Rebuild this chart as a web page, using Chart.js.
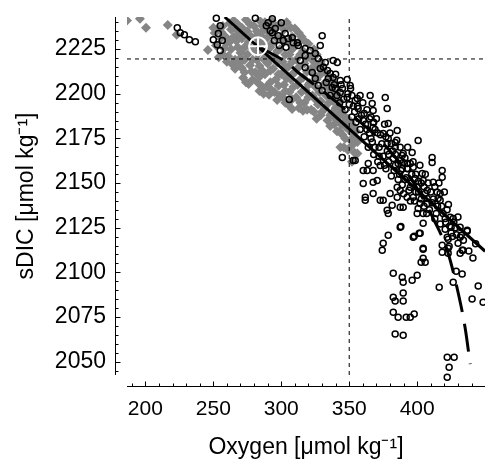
<!DOCTYPE html>
<html><head><meta charset="utf-8">
<script src="https://cdn.jsdelivr.net/npm/chart.js@4"></script>
<style>html,body{margin:0;padding:0;background:#fff;overflow:hidden}canvas{display:block}</style>
</head><body>
<canvas id="c" width="485" height="459"></canvas>
<script>
// ---- axis definitions ----
const xTickValues = [200, 250, 300, 350, 400];
const yTickValues = [2050, 2075, 2100, 2125, 2150, 2175, 2200, 2225];
const xMinorStep = 10;
const yMinorStep = 5;
const xRange = [186.5, 449.9];
const yRange = [2042.5, 2243];

// ---- reference lines ----
const refOxygen = 350;
const refDIC = 2219.5;

// ---- reference point (⊕ marker) ----
const centerPoint = [282.9, 2226.6];

// ---- linear fit (solid) ----
const fitOxygen = [258.4, 450];
const fitDIC = [2243, 2111.8];

// ---- curved fit (dashed) ----
const curveOxygen = [282.9, 305.1, 312.5, 327.2, 350.7, 372.8, 394.9, 413.2, 422.1, 429.4, 435.3, 439.0];
const curveDIC = [2226.6, 2216.9, 2211.9, 2203.5, 2188.9, 2173.9, 2153.2, 2128.0, 2112.4, 2091.1, 2068.8, 2048.6];

// ---- gray diamonds: [oxygen, sDIC] ----
const grayPoints = [
[186.5,2241],[196,2242],[200.5,2237],[216.5,2238.5],[223,2233],[246,2224.5],[253.5,2236.5],
[251,2234],[252,2227],[254,2220.5],[255.5,2231],
[257,2238],[259,2232],[258,2225.5],[261,2221],[263,2236],[262,2229],[264,2216.5],[266,2214],[265,2241],
[268,2239],[269,2233],[268,2226],[270,2220],[272,2209],[271,2214.5],[274,2241.5],[275,2235],[276,2229],[275,2222],[277,2216],[276,2205.5],[280,2238],[281,2232],[280,2225],[282,2219],[281,2212],[283,2206],[284,2201.5],[284,2241],[285,2234],[286,2228],
[288,2240],[289,2236],[288,2230],[289,2223],[290,2217],[288,2211],[289,2204],[291,2199.5],[293,2241],[294,2235],[293,2228],[295,2221],[294,2214],[296,2208],[295,2201],[297,2196.5],[299,2239],[300,2232],[299,2225],[301,2218],[300,2211],[302,2205],[301,2198],[304,2240],[305,2229],[306,2222],[305,2215],[307,2208],[306,2201],[305,2194],
[310,2236.5],[309,2226],[311,2219],[310,2212],[312,2205],[311,2198],[313,2192],[315,2232],[316,2224],[317,2217],[316,2209],[318,2202],[317,2195],[320,2228],[321,2221],[322,2214],[321,2206],[323,2199],[322,2191],[326,2222],[327,2215],[326,2208],[328,2201],[327,2194],[329,2188],
[331,2213],[332,2206],[333,2199],[332,2192],[334,2185],[336,2209],[337,2203],[338,2196],[337,2189],[339,2183],[341,2200],[342,2193],[341,2186],[343,2179],
[345,2190],[346,2184],[345,2177],[343.5,2170],[349,2186],[350,2180],[351,2174],[349,2168.5],[353,2182],[354,2176],[356,2166.5],[352,2162],
[250,2237],[256,2234.5],[257,2222],[260,2228.5],[260,2218],[262,2239.5],[263,2225],[265,2232],[266,2219],
[267,2236],[267,2229.5],[269,2217],[270,2223],[271,2237],[271,2231],[273,2226],[273,2219],[273,2212],[274,2206.5],[277,2239],[278,2232],[278,2225.5],[279,2219],[278,2212.5],[279,2208],[282,2235],[283,2228.5],[283,2222.5],[284,2215.5],[284,2209.5],[286,2204],[286,2238],[287,2231],[287,2219.5],[286,2213],[287,2200],
[291,2238.5],[291,2232.5],[292,2226],[292,2219.5],[292,2213],[292,2206.5],[293,2202],[296,2238],[297,2231],[297,2224],[297,2217.5],[298,2211],[298,2204.5],[299,2199],[302,2236],[302,2229],[303,2222],[303,2215],[304,2208.5],[303,2201.5],[303,2195],[307,2237],[308,2232],[308,2225],[308,2218],[308,2211],[309,2204],[308,2197],[308,2191.5],
[313,2234],[313,2229],[314,2222],[313,2215],[314,2208],[315,2201],[314,2195],[316,2190.5],[318,2229],[319,2220],[319,2212.5],[320,2205],[320,2198],[319,2191],[324,2225],[324,2218],[324,2211],[325,2204],[325,2197],[324,2190],[329,2218],[329,2211],[330,2204],[329,2196],[330,2190],[326,2186],
[334,2211],[335,2203],[335,2195],[336,2188],[336,2182],[339,2206],[339,2199],[340,2192],[340,2186],[341,2179],[343,2196],[343,2189],[344,2183],
[347,2187],[348,2181],[347,2175],[346,2170],[351,2184],[352,2178],[352,2171],[355,2179],[356,2173],[354,2167]
];

// ---- open circles: [oxygen, sDIC] ----
const circlePoints = [
[223.5,2237],[225.7,2234.2],[228.7,2233.1],[232.4,2230.3],[236.8,2229.2],[252.2,2242.3],[255.1,2238.1],[253.7,2233.7],[250,2230.3],[252.9,2227.5],[255.1,2224.2],[256.6,2229.8],
[280.9,2242.3],[293.4,2242],[290.4,2239.8],[293.4,2234.2],[301.5,2229.8],[308.8,2228.6],
[289,2238.1],[291.9,2235.3],[295.6,2236.5],[297.8,2232.5],[300,2239.8],[302.9,2233.7],[305.1,2230.9],[294.9,2229.8],[298.5,2227],[303.5,2226],
[308.1,2231.4],[311.8,2228.6],[330.1,2232.5],[328.7,2227],[325,2222.5],[332.4,2217.5],[338.2,2218.6],[336,2211.3],[338.2,2209.1],[322.8,2211.9],[317.6,2214.7],[325,2208.5],[317.6,2225.3],[341.2,2217.5],[328.7,2214.1],[334.6,2208.5],[348.5,2208],[337.5,2203.5],[343.4,2200.7],[348.5,2197.9],[350.7,2204.6],[354.4,2196.2],[305.9,2196.8],
[327.2,2204.6],[330.1,2201.8],[333.1,2206.3],[336,2199],[339.7,2202.9],[343.4,2207.4],
[312.5,2227],[317.6,2221.4],[321.3,2224.2],[327.2,2219.7],[314,2218.6],
[355.9,2197.3],[365.4,2199],[376.5,2197.9],[377.9,2191.7],[367.6,2190.6],[366.9,2194.5],[356.6,2191.7],[360.3,2185],[367.6,2181.1],[367.6,2183.9],[375,2177.8],[385.3,2179.4],[378.7,2183.4],[377.9,2172.2],[378.7,2175],[383.8,2170],[383.8,2172.7],[389.7,2166.6],[387.5,2170],[400.7,2173.9],[396.3,2167.1],[387.5,2162.7],[392.6,2161],[397.1,2158.8],[403.7,2155.4],[411,2164.3],[411,2161.5],[418.4,2157.1],[418.4,2153.2],[411.8,2150.4],[416.9,2144.2],[405.9,2144.2],[394.9,2147.6],[385.3,2147.6],[380.1,2144.2],[372.8,2140.3],[377.9,2134.7],[389.7,2136.4],[400,2133],[407.4,2138.6],[416.9,2140.3],[424.3,2130.8],[431.6,2125.2],[363.2,2157.1],[364,2161],[360.3,2149.8],[361.8,2142],[367.6,2144.2],[367.6,2150.4],[352.9,2162.7],[344.9,2164.3],[389,2165.5],[382.4,2163.8],[389.7,2161.5],[394.9,2161],[392.6,2158.2],[404.4,2151.5],[398.5,2152.6],[400,2147.6],[407.4,2145.9],[414.7,2144.8],[415.4,2141.4],[407.4,2141.4],[402.2,2138.6],[404.4,2133],[400.7,2135.8],[397.1,2142],[392.6,2142],[387.5,2145.9],[385.3,2142],[381.6,2137.5],[387.5,2136.4],[378.7,2133],[375,2140.3],[370.6,2151.5],[367.6,2157.1],[372.8,2159.9],[360.3,2157.1],[354.4,2162.7],[361.8,2140.3],
[420.6,2130.2],[426.5,2130.2],[436.8,2123.6],[431.6,2119.7],[430.1,2116.3],[433.1,2112.4],[422.1,2119.7],[418.4,2115.2],[422.8,2113.5],[418.4,2111.3],[422.8,2110.7],[404.4,2113.5],[402.2,2121.9],[397.1,2119.7],[387.5,2125.2],[388,2125.6],[378.7,2120.8],[375,2116.3],[374.3,2112.4],
[382.4,2099.5],[389,2097.3],[389.7,2094.5],[396.3,2095.6],[400,2098.4],[397.8,2120.2],[401.5,2121.9],[404.4,2127.5],[404.4,2112.9],[404.4,2107.9],[402.9,2105.7],[405.9,2105.7],[382.4,2086.1],[383.8,2083.9],[389.7,2083.9],[389.7,2088.4],[382.4,2077.7],[386,2074.9],[391.9,2074.9],[394.9,2074.9],[397.8,2076.6],[383.8,2065.4],[389.7,2064.8],[416.2,2091.7],[420.6,2124.1],[425,2125.2],[422.8,2118.5],[423.5,2114.6],[432.4,2120.8],[431.6,2110.7],[433.8,2112.4],[436.8,2123],[428.7,2100.6],[433.1,2099],[426.5,2094.5],[444.9,2092.3],[440.4,2085],[448.5,2083.3],[422.1,2052.5],[427.2,2052.5],[423.5,2046.9],[422.1,2041.3],
[339,2205],[341,2199],[343,2195],[345,2203],[347,2191],[349,2200],[350,2194],[352,2187],[352,2199],
[354,2190],[355,2184],[356,2193],[358,2180],[359,2188],[360,2195],[361,2176],[362,2183],[363,2191],[364,2170],[365,2178],[366,2187],
[367,2173],[368,2166],[369,2180],[370,2186],[371,2162],[372,2170],[373,2177],[375,2165],[376,2183],[377,2158],[378,2168],[379,2162],[380,2178],
[381,2154],[382,2168],[384,2160],[385,2174],[386,2152],[388,2157],[389,2149],[391,2164],[392,2153],[393,2170],[394,2146],
[396,2150],[397,2162],[398,2140],[399,2155],[401,2145],[402,2160],[403,2150],[405,2137],[406,2155],[408,2150],[409,2135],
[412,2141],[413,2148],[414,2133],[416,2150],[418,2137],[420,2145],[421,2128],[423,2138],[425,2122],
[427,2128],[429,2121],[434,2118],[438,2112],[441,2108],[443,2116],
[331,2215],[334,2213],[340,2211],[344,2205],[346,2197],[351,2203],[353,2193],[357,2186],[358,2199],[361,2189],[363,2180],[365,2186],[366,2175],[368,2184],[369,2170],[371,2178],[372,2165],[374,2172],[376,2160],[377,2176],[379,2166],[381,2172],[383,2157],[384,2166],[386,2161],[387,2155],[389,2158],[390,2144],[391,2152],[393,2158],[395,2140],[396,2155],[399,2145],[401,2151],[403,2141],[405,2148],[407,2133],[410,2145],[411,2139],[413,2130],[415,2137],[417,2127],[419,2133],[422,2135],[424,2126],[426,2120],[428,2125],[430,2131]
];

const toXY = arr => arr.map(p => ({x: p[0], y: p[1]}));
const zipXY = (xs, ys) => xs.map((v, i) => ({x: v, y: ys[i]}));

const FONT = "'Liberation Sans', Arial, Helvetica, sans-serif";
Chart.defaults.font.family = FONT;
Chart.defaults.color = '#000';

const offsetAxes = {
  id: 'offsetAxes',
  afterDraw(chart) {
    const {ctx, chartArea: a, scales: {x, y}} = chart;
    const yAxisX = a.left - 11.5, xAxisY = a.bottom + 11.5;
    ctx.save();
    ctx.strokeStyle = '#000';
    ctx.lineWidth = 1;
    ctx.beginPath();
    ctx.moveTo(yAxisX, a.top); ctx.lineTo(yAxisX, a.bottom);
    ctx.moveTo(a.left, xAxisY); ctx.lineTo(a.right, xAxisY);
    for (let v = Math.ceil(y.min / yMinorStep) * yMinorStep; v <= y.max; v += yMinorStep) {
      const p = Math.round(y.getPixelForValue(v)) + 0.5;
      const len = yTickValues.includes(v) ? 5 : 3;
      ctx.moveTo(yAxisX, p); ctx.lineTo(yAxisX + len, p);
    }
    for (let v = Math.ceil(x.min / xMinorStep) * xMinorStep; v <= x.max; v += xMinorStep) {
      const p = Math.round(x.getPixelForValue(v)) + 0.5;
      const len = xTickValues.includes(v) ? 5 : 3;
      ctx.moveTo(p, xAxisY); ctx.lineTo(p, xAxisY - len);
    }
    ctx.stroke();
    ctx.restore();
  }
};

new Chart(document.getElementById('c'), {
  type: 'scatter',
  data: {
    datasets: [
      {
        data: [{x: centerPoint[0], y: centerPoint[1]}],
        pointStyle: 'circle', pointRadius: 9, borderColor: '#fff', borderWidth: 2,
        backgroundColor: 'rgba(0,0,0,0)', order: 0
      },
      {
        data: [{x: centerPoint[0], y: centerPoint[1]}],
        pointStyle: 'cross', pointRadius: 9, borderColor: '#fff', borderWidth: 2, order: 0
      },
      {
        data: zipXY(curveOxygen, curveDIC), showLine: true, pointRadius: 0,
        borderColor: '#000', borderWidth: 3, borderDash: [28, 12],
        cubicInterpolationMode: 'monotone', order: 1
      },
      {
        data: zipXY(fitOxygen, fitDIC), showLine: true, pointRadius: 0,
        borderColor: '#000', borderWidth: 3, order: 2
      },
      {
        data: [{x: xRange[0], y: refDIC}, {x: xRange[1], y: refDIC}], showLine: true, pointRadius: 0,
        borderColor: '#000', borderWidth: 1, borderDash: [4, 4], order: 3
      },
      {
        data: [{x: refOxygen, y: yRange[0]}, {x: refOxygen, y: yRange[1]}], showLine: true, pointRadius: 0,
        borderColor: '#000', borderWidth: 1, borderDash: [4, 4], order: 3
      },
      {
        data: toXY(circlePoints), pointStyle: 'circle', pointRadius: 3,
        borderColor: '#000', borderWidth: 1.5, backgroundColor: 'rgba(0,0,0,0)',
        clip: false, order: 5
      },
      {
        data: toXY(grayPoints), pointStyle: 'rectRot', pointRadius: 5,
        backgroundColor: '#858585', borderColor: '#858585', borderWidth: 0, order: 6
      }
    ]
  },
  options: {
    responsive: false,
    animation: false,
    devicePixelRatio: 1,
    layout: {padding: {top: 17, right: 0, bottom: 0, left: 0}, autoPadding: false},
    plugins: {legend: {display: false}, tooltip: {enabled: false}},
    elements: {point: {hoverRadius: 0}},
    scales: {
      x: {
        type: 'linear', min: xRange[0], max: xRange[1],
        afterBuildTicks: s => { s.ticks = xTickValues.map(v => ({value: v})); },
        afterFit: s => { s.height = 84; s.paddingLeft = 0; s.paddingRight = 0; },
        grid: {display: false, drawTicks: false},
        border: {display: false},
        ticks: {font: {size: 21}, color: '#000', padding: 22, maxRotation: 0, autoSkip: false, callback: v => String(v)},
        title: {display: true, text: 'Oxygen [μmol kg⁻¹]', font: {size: 23, lineHeight: 1}, color: '#000', padding: {top: 0, bottom: 0}}
      },
      y: {
        type: 'linear', min: yRange[0], max: yRange[1],
        afterBuildTicks: s => { s.ticks = yTickValues.map(v => ({value: v})); },
        afterFit: s => { s.width = 127; s.paddingTop = 0; s.paddingBottom = 0; },
        grid: {display: false, drawTicks: false},
        border: {display: false},
        ticks: {font: {size: 23}, color: '#000', padding: 21, autoSkip: false, callback: v => String(v)},
        title: {display: true, text: 'sDIC [μmol kg⁻¹]', font: {size: 23, lineHeight: 1}, color: '#000', padding: {top: 15, bottom: 0}}
      }
    }
  },
  plugins: [offsetAxes]
});
</script>
</body></html>
